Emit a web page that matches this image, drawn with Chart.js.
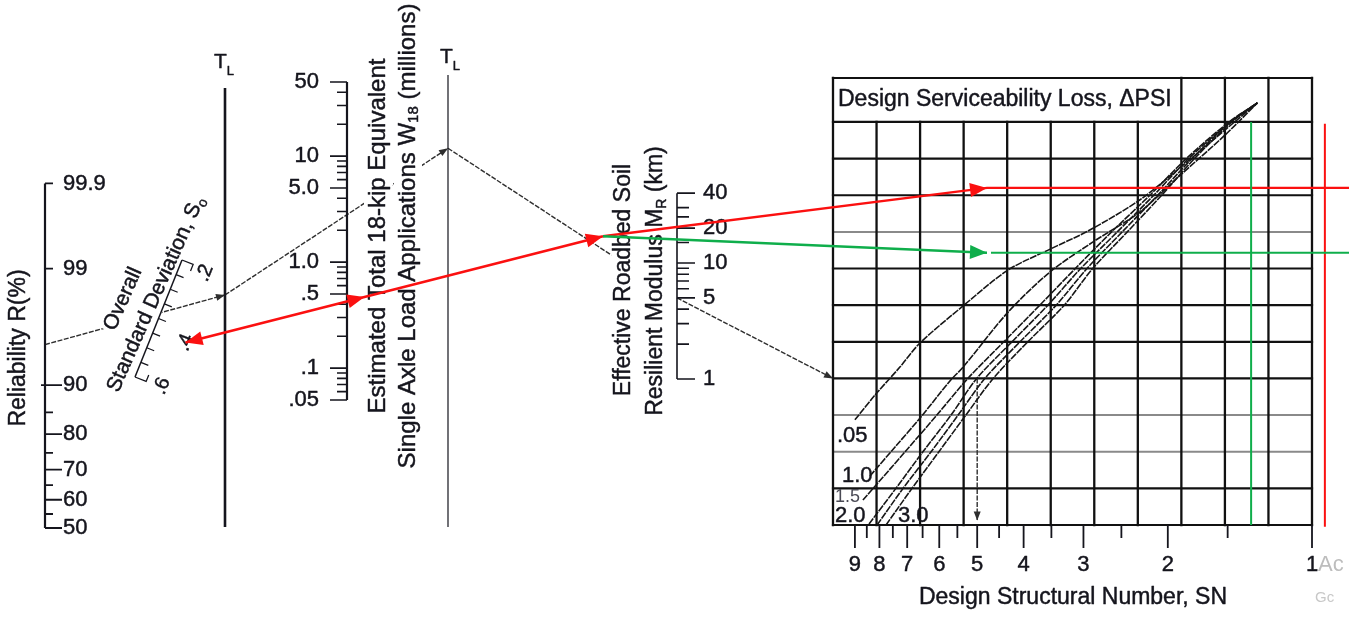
<!DOCTYPE html>
<html>
<head>
<meta charset="utf-8">
<title>Flexible pavement design nomograph</title>
<script src="https://cdn.jsdelivr.net/npm/chart.js@4.4.1/dist/chart.umd.min.js"></script>
<style>
html,body{margin:0;padding:0;background:#fff;overflow:hidden;}
canvas{display:block;}
</style>
</head>
<body>
<canvas id="chart" width="1349" height="617"></canvas>
<script>
const reliabilityTicks = [99.9, 99, 90, 80, 70, 60, 50];
const reliabilityLongTicks = [90, 80, 70, 60, 50];
const reliabilityMinorTicks = [85, 75, 65, 55];

const stdDevTicks = [0.20, 0.25, 0.30, 0.35, 0.40, 0.45, 0.50, 0.55, 0.60];
const stdDevLabelValues = [0.2, 0.4, 0.6];
const stdDevLabels = ['.2', '.4', '.6'];

const w18LabelValues = [50, 10, 5, 1, 0.5, 0.1, 0.05];
const w18Labels = ['50', '10', '5.0', '1.0', '.5', '.1', '.05'];
const w18MinorTicks = [40, 30, 20, 9, 8, 7, 6, 4, 3, 2, 0.9, 0.8, 0.7, 0.6, 0.4, 0.3, 0.2, 0.09, 0.08, 0.07, 0.06];

const mrLabelValues = [40, 20, 10, 5, 1];
const mrLabels = ['40', '20', '10', '5', '1'];
const mrMinorTicks = [30, 25, 15, 9, 8, 7, 6, 4, 3, 2];

const snLabelValues = [9, 8, 7, 6, 5, 4, 3, 2, 1];
const snMinorTicks = [8.5, 7.5, 6.5, 5.5, 4.5, 3.5, 2.5, 1.5];

const psiLabels = ['.05', '1.0', '1.5', '2.0', '3.0'];
// Design serviceability loss curves: [SN, chart row]
const psiCurve05 = [[9.0,2.87],[8.13,3.58],[7.25,4.31],[6.58,4.97],[5.35,5.98],[4.31,6.96],[3.52,7.53],[2.91,8.05],[2.29,8.87],[1.89,9.74],[1.52,10.78],[1.30,11.52]];
const psiCurve10 = [[8.37,1.34],[7.42,2.13],[6.58,2.92],[5.70,3.93],[5.35,4.31],[4.31,5.81],[3.52,6.91],[2.87,7.72],[2.29,8.54],[1.89,9.53],[1.52,10.64],[1.30,11.52]];
const psiCurve15 = [[8.66,0.68],[7.07,2],[6.07,3],[5.23,4],[4.40,5],[3.70,6],[3.12,7],[2.62,8],[2.18,9],[1.83,10],[1.49,11],[1.30,11.52]];
const psiCurve20 = [[8.41,0.03],[7.39,1],[6.49,2],[5.67,3],[5.01,4],[4.23,5],[3.56,6],[3.04,7],[2.55,8],[2.14,9],[1.81,10],[1.48,11],[1.30,11.52]];
const psiCurve25 = [[8.09,0],[7.14,1],[6.24,2],[5.48,3],[4.82,4],[4.07,5],[3.42,6],[2.95,7],[2.49,8],[2.10,9],[1.78,10],[1.48,11],[1.30,11.52]];
const psiCurve30 = [[7.75,0],[6.84,1],[6.01,2],[5.28,3],[4.63,4],[3.92,5],[3.29,6],[2.87,7],[2.43,8],[2.06,9],[1.76,10],[1.47,11],[1.30,11.52]];

// worked example (black)
const exampleReliability = 95;
const exampleStdDev = 0.38;
const exampleW18 = 2.8;
const exampleMR = 5;
const exampleRow = 4;
const exampleSN = 5.0;
// hand-drawn annotation (red / green)
const annotationStdDev = 0.4;
const annotationMR = 17;
const annotationSN = 4.77;
const redRow = 9.2;
const greenRow = 7.43;
const redVerticalSN = 0.94;
const greenVerticalSN = 1.34;

// ===================== LAYOUT / STYLE =====================
const W = 1349, H = 617;
const PANEL = {left: 833, right: 1312, top: 78, bottom: 525};
const GRID_COLS = 11, GRID_ROWS = 11, GY_MAX = 12.2;
const SN_MIN = 1, SN_MAX = 10;
const REL = {x: 45, y50: 528, unit: 111.5, tickShort: 8, tickLong: 17};
const SO = {x0: 182, y0: 260, x1: 135, y1: 377, v0: 0.2, v1: 0.6};
const SO_LABEL_OFFSETS = [[23, 13], [27, 24], [27, 9]];
const SO_TEXT_ANGLE = -66 * Math.PI / 180;
const TL1 = {x: 225, top: 88, bottom: 527};
const W18 = {x: 347, y50: 82, decade: 106};
const TL2 = {x: 448, top: 75, bottom: 527};
const MR = {x: 677, y1: 379, decade: 116};
const PIVOT_X = 603;
const LINE3_FRACTION = 0.72;
const FONT = '"Liberation Sans", Arial, Helvetica, sans-serif';
const INK = '#15151d';
const RED = '#fb1010';
const GREEN = '#0fae4b';
const LINE_GRAY = '#2e2e2e';

// ===================== scale transforms =====================
function probit(p) {
  const a=[-3.969683028665376e+01,2.209460984245205e+02,-2.759285104469687e+02,1.383577518672690e+02,-3.066479806614716e+01,2.506628277459239e+00];
  const b=[-5.447609879822406e+01,1.615858368580409e+02,-1.556989798598866e+02,6.680131188771972e+01,-1.328068155288572e+01];
  const c=[-7.784894002430293e-03,-3.223964580411365e-01,-2.400758277161838e+00,-2.549732539343734e+00,4.374664141464968e+00,2.938163982698783e+00];
  const d=[7.784695709041462e-03,3.224671290700398e-01,2.445134137142996e+00,3.754408661907416e+00];
  const pl = 0.02425, ph = 1 - pl; let q, r;
  if (p < pl) { q = Math.sqrt(-2*Math.log(p)); return (((((c[0]*q+c[1])*q+c[2])*q+c[3])*q+c[4])*q+c[5])/((((d[0]*q+d[1])*q+d[2])*q+d[3])*q+1); }
  if (p <= ph) { q = p - 0.5; r = q*q; return (((((a[0]*r+a[1])*r+a[2])*r+a[3])*r+a[4])*r+a[5])*q/(((((b[0]*r+b[1])*r+b[2])*r+b[3])*r+b[4])*r+1); }
  q = Math.sqrt(-2*Math.log(1-p)); return -(((((c[0]*q+c[1])*q+c[2])*q+c[3])*q+c[4])*q+c[5])/((((d[0]*q+d[1])*q+d[2])*q+d[3])*q+1);
}
const pt = (x, y) => ({x, y});
const GAP = {x: NaN, y: NaN};
const relY = v => REL.y50 - REL.unit * probit(v / 100);
const soPt = v => { const t = (v - SO.v0) / (SO.v1 - SO.v0); return pt(SO.x0 + t * (SO.x1 - SO.x0), SO.y0 + t * (SO.y1 - SO.y0)); };
const soDir = (() => { const dx = SO.x1 - SO.x0, dy = SO.y1 - SO.y0, L = Math.hypot(dx, dy); return {x: dx / L, y: dy / L}; })();
const soPerp = {x: soDir.y, y: -soDir.x};
const soAngle = Math.atan2(SO.y0 - SO.y1, SO.x0 - SO.x1);
const soLabelPos = i => { const p = soPt(stdDevLabelValues[i]); return pt(p.x + SO_LABEL_OFFSETS[i][0], p.y + SO_LABEL_OFFSETS[i][1]); };
const w18Y = v => W18.y50 + W18.decade * (Math.log10(50) - Math.log10(v));
const mrY = v => MR.y1 - MR.decade * Math.log10(v);
const lineAtX = (a, b, x) => pt(x, a.y + (b.y - a.y) * (x - a.x) / (b.x - a.x));
const dirOf = (a, b) => { const L = Math.hypot(b.x - a.x, b.y - a.y); return {x: (b.x - a.x) / L, y: (b.y - a.y) / L}; };
function segs(list) { const out = []; list.forEach((s, i) => { if (i) out.push(GAP); out.push(...s); }); return out; }

// ===================== datasets =====================
const datasets = [];
function add(o) {
  const d = Object.assign({type: 'line', xAxisID: 'px', yAxisID: 'py', borderColor: INK, borderWidth: 1.5,
    pointRadius: 0, pointHoverRadius: 0, pointHitRadius: 0, fill: false, tension: 0, clip: false,
    spanGaps: false, order: 20, borderCapStyle: 'butt', data: []}, o);
  datasets.push(d); return d;
}
const byKey = k => datasets.find(d => d.key === k);

// design chart grid
const colTop = k => (k >= 1 && k <= 7) ? GRID_ROWS : GY_MAX;
add({key: 'gridV', xAxisID: 'gx', yAxisID: 'gy', borderColor: '#111', borderWidth: 2.3, order: 40, borderCapStyle: 'square',
  data: segs(Array.from({length: GRID_COLS + 1}, (_, k) => [pt(k, 0), pt(k, colTop(k))]))});
const grayRows = [2, 3, 8];
const blackRows = [0, 1, 4, 5, 6, 7, 9, 10, 11, GY_MAX];
add({key: 'gridHBlack', xAxisID: 'gx', yAxisID: 'gy', borderColor: '#111', borderWidth: 2.2, order: 41, borderCapStyle: 'square',
  data: segs(blackRows.map(r => [pt(0, r), pt(GRID_COLS, r)]))});
add({key: 'gridHGray', xAxisID: 'gx', yAxisID: 'gy', borderColor: '#8a8a8a', borderWidth: 2, order: 42,
  data: segs(grayRows.map(r => [pt(0, r), pt(GRID_COLS, r)]))});

// ΔPSI curves
[psiCurve05, psiCurve10, psiCurve15, psiCurve20, psiCurve25, psiCurve30].forEach((c, i) =>
  add({key: 'psi' + i, xAxisID: 'sn', yAxisID: 'gy', borderColor: '#161616', borderWidth: 1.6, tension: 0.3,
    borderDash: [7, 1], order: 20, data: c.map(([s, r]) => pt(s, r))}));

// SN axis ticks
const ROW_PX = (PANEL.bottom - PANEL.top) / GY_MAX;
add({key: 'snMajor', xAxisID: 'sn', yAxisID: 'gy', borderWidth: 1.8,
  data: segs(snLabelValues.map(v => [pt(v, 0), pt(v, -23 / ROW_PX)]))});
add({key: 'snMinor', xAxisID: 'sn', yAxisID: 'gy', borderWidth: 1.8,
  data: segs(snMinorTicks.map(v => [pt(v, 0), pt(v, -13 / ROW_PX)]))});

// Reliability axis
add({key: 'relAxis', borderWidth: 2.2, data: [pt(REL.x, relY(99.9)), pt(REL.x, relY(50))]});
add({key: 'relTicks', borderWidth: 1.8, data: segs([
  ...reliabilityTicks.map(v => [pt(REL.x, relY(v)), pt(REL.x + (reliabilityLongTicks.includes(v) ? REL.tickLong : REL.tickShort), relY(v))]),
  ...reliabilityMinorTicks.map(v => [pt(REL.x, relY(v)), pt(REL.x + REL.tickShort, relY(v))]),
  [pt(REL.x - 4, relY(90)), pt(REL.x, relY(90))]
])});

// Overall standard deviation scale
add({key: 'soAxis', borderWidth: 1.5, data: [soPt(SO.v0), soPt(SO.v1)]});
add({key: 'soTicks', borderWidth: 1.3, data: segs(stdDevTicks.map((v, i) => {
  const p = soPt(v);
  if (i === 0 || i === stdDevTicks.length - 1) {
    const e = pt(p.x + soPerp.x * 12, p.y + soPerp.y * 12), s = i === 0 ? 1 : -1;
    return [p, e, pt(e.x + soDir.x * 7 * s, e.y + soDir.y * 7 * s)];
  }
  return [p, pt(p.x + soPerp.x * 8, p.y + soPerp.y * 8)];
}))});

// turning lines
add({key: 'tl1', borderWidth: 2.6, data: [pt(TL1.x, TL1.top), pt(TL1.x, TL1.bottom)]});
add({key: 'tl2', borderWidth: 1.2, data: [pt(TL2.x, TL2.top), pt(TL2.x, TL2.bottom)]});

// W18 axis
add({key: 'w18Axis', borderWidth: 2.2, data: [pt(W18.x, w18Y(50)), pt(W18.x, w18Y(0.05))]});
add({key: 'w18Ticks', borderWidth: 1.6, data: segs([
  ...w18LabelValues.map(v => [pt(W18.x - 17, w18Y(v)), pt(W18.x, w18Y(v))]),
  ...w18MinorTicks.map(v => [pt(W18.x - 10, w18Y(v)), pt(W18.x, w18Y(v))])
])});

// MR axis
add({key: 'mrAxis', borderWidth: 1.6, data: [pt(MR.x, mrY(40)), pt(MR.x, mrY(1))]});
add({key: 'mrTicks', borderWidth: 1.6, data: segs([
  ...mrLabelValues.map(v => [pt(MR.x, mrY(v)), pt(MR.x + 18, mrY(v))]),
  ...mrMinorTicks.map(v => [pt(MR.x, mrY(v)), pt(MR.x + 12, mrY(v))])
])});

// worked example path
const relP = pt(REL.x, relY(exampleReliability));
const soP = soPt(exampleStdDev);
const tl1P = lineAtX(relP, soP, TL1.x);
const w18P = pt(W18.x, w18Y(exampleW18));
const tl2P = lineAtX(tl1P, w18P, TL2.x);
const mrP = pt(MR.x, mrY(exampleMR));
const line3End = pt(tl2P.x + (mrP.x - tl2P.x) * LINE3_FRACTION, tl2P.y + (mrP.y - tl2P.y) * LINE3_FRACTION);
const exStyle = {borderColor: LINE_GRAY, borderWidth: 1.4, borderDash: [5, 1.5], order: 30};
add(Object.assign({key: 'ex1', data: [relP, tl1P], arrows: [{at: 1, from: 0}]}, exStyle));
add(Object.assign({key: 'ex2', data: [tl1P, tl2P], arrows: [{at: 1, from: 0}]}, exStyle));
add(Object.assign({key: 'ex3', data: [tl2P, line3End]}, exStyle));
add(Object.assign({key: 'ex4', data: [], arrows: [{at: 1, from: 0}]}, exStyle));
add(Object.assign({key: 'ex5', xAxisID: 'sn', yAxisID: 'gy', data: [pt(exampleSN, exampleRow), pt(exampleSN, 0.12)], arrows: [{at: 1, from: 0}]}, exStyle));

// text layer anchor (text drawn over black lines, under scales & annotations)
add({key: 'textLayer', textLayer: true, order: 25, data: []});

// red / green annotation
const redStart = soLabelPos(stdDevLabelValues.indexOf(annotationStdDev));
const pivot = pt(PIVOT_X, mrY(annotationMR));
const rd = dirOf(redStart, pivot);
const redCross = lineAtX(redStart, pivot, W18.x);
const redMid = pt(redCross.x + rd.x * 18, redCross.y + rd.y * 18);
add({key: 'redA', borderColor: RED, borderWidth: 2.6, order: 5, data: [redStart, redMid, pivot],
  arrows: [{at: 0, from: 1, big: true}, {at: 1, from: 0, big: true}, {at: 2, from: 1, big: true}]});
add({key: 'redB', borderColor: RED, borderWidth: 2.4, order: 5, data: [], arrows: [{at: 1, from: 0, big: true}]});
add({key: 'redV', xAxisID: 'sn', yAxisID: 'gy', borderColor: RED, borderWidth: 2, order: 5,
  data: [pt(redVerticalSN, 10.95), pt(redVerticalSN, -0.05)]});
add({key: 'greenE', borderColor: GREEN, borderWidth: 2.6, order: 4, data: [], arrows: [{at: 1, from: 0, big: true}]});
add({key: 'greenF', borderColor: GREEN, borderWidth: 2.2, order: 4, data: []});
add({key: 'greenV', xAxisID: 'sn', yAxisID: 'gy', borderColor: GREEN, borderWidth: 2, order: 4,
  data: [pt(greenVerticalSN, GRID_ROWS), pt(greenVerticalSN, 0)]});

// ===================== drawing helpers =====================
function text(ctx, runs, x, y, angle, align, o = {}) {
  ctx.save();
  ctx.translate(x, y); if (angle) ctx.rotate(angle);
  ctx.textBaseline = 'middle'; ctx.textAlign = 'left';
  const ws = runs.map(([t, s]) => { ctx.font = s + 'px ' + FONT; return ctx.measureText(t).width; });
  const total = ws.reduce((a, b) => a + b, 0);
  let cx = align === 'center' ? -total / 2 : align === 'right' ? -total : 0;
  if (o.bg) { const h = o.bgH || runs[0][1] * 1.12; ctx.fillStyle = '#fff'; ctx.fillRect(cx - 2, -h / 2 + (o.bgShift || 0), total + 4, h); }
  const col = o.color || INK;
  ctx.fillStyle = col; ctx.strokeStyle = col; ctx.lineWidth = 0.45; ctx.lineJoin = 'round';
  runs.forEach(([t, s, dy], i) => {
    ctx.font = s + 'px ' + FONT;
    ctx.fillText(t, cx, dy || 0);
    if (!o.light) ctx.strokeText(t, cx, dy || 0);
    cx += ws[i];
  });
  ctx.restore();
}
function arrowHead(ctx, tip, from, len, half, color) {
  const d = dirOf(from, tip);
  const bx = tip.x - d.x * len, by = tip.y - d.y * len;
  ctx.beginPath(); ctx.moveTo(tip.x, tip.y);
  ctx.lineTo(bx - d.y * half, by + d.x * half); ctx.lineTo(bx + d.y * half, by - d.x * half);
  ctx.closePath(); ctx.fillStyle = color; ctx.fill();
}
const R90 = -Math.PI / 2;
function drawTexts(chart) {
  const ctx = chart.ctx, sn = chart.scales.sn;
  // reliability
  reliabilityTicks.forEach(v => text(ctx, [[String(v), 22]], REL.x + 18, relY(v), 0, 'left'));
  text(ctx, [['Reliability R(%)', 23]], 19, 348, R90, 'center');
  // standard deviation
  text(ctx, [['Overall', 21]], 123, 299, SO_TEXT_ANGLE, 'center', {bg: true, bgH: 30, bgShift: 3});
  text(ctx, [['Standard Deviation, S', 21], ['o', 14, 6]], 156, 294, SO_TEXT_ANGLE, 'center', {bg: true, bgH: 26});
  stdDevLabels.forEach((l, i) => { const p = soLabelPos(i); text(ctx, [[l, 20]], p.x, p.y, soAngle, 'center'); });
  // turning lines
  text(ctx, [['T', 21], ['L', 13, 9]], 214, 62, 0, 'left');
  text(ctx, [['T', 21], ['L', 13, 9]], 440, 57, 0, 'left');
  // W18
  w18Labels.forEach((l, i) => text(ctx, [[l, 22]], W18.x - 28, w18Y(w18LabelValues[i]), 0, 'right'));
  text(ctx, [['Estimated Total 18-kip Equivalent', 24]], 378, 236, R90, 'center', {bg: true, bgH: 28});
  text(ctx, [['Single Axle Load Applications W', 24], ['18', 15, 6], [' (millions)', 24]], 408, 236, R90, 'center', {bg: true, bgH: 28});
  // MR
  mrLabels.forEach((l, i) => text(ctx, [[l, 22]], MR.x + 26, mrY(mrLabelValues[i]), 0, 'left'));
  text(ctx, [['Effective Roadbed Soil', 23]], 624, 280, R90, 'center', {bg: true});
  text(ctx, [['Resilient Modulus M', 23], ['R', 14, 6], [' (km)', 23]], 656, 281, R90, 'center', {bg: true});
  // design chart
  text(ctx, [['Design Serviceability Loss, \u0394PSI', 23]], 838, 100, 0, 'left');
  const psiPos = [[837, 436, 22], [842, 476, 22], [835, 497, 18], [835, 516, 22], [898, 516, 22]];
  psiLabels.forEach((l, i) => text(ctx, [[l, psiPos[i][2]]], psiPos[i][0], psiPos[i][1], 0, 'left', {color: i === 2 ? '#4a4a55' : INK, light: i === 2}));
  snLabelValues.forEach(v => text(ctx, [[String(v), 22]], sn.getPixelForValue(v), 565, 0, 'center'));
  text(ctx, [['Design Structural Number, SN', 23]], 1073, 598, 0, 'center');
  // screen watermark remnants
  text(ctx, [['Ac', 22]], 1318, 565, 0, 'left', {color: '#bdbdbd', light: true});
  text(ctx, [['Gc', 15]], 1315, 598, 0, 'left', {color: '#c8c8c8', light: true});
}
const layerPlugin = {
  id: 'nomoLayers',
  afterDatasetDraw(chart, args) {
    const ds = chart.data.datasets[args.index];
    const ctx = chart.ctx;
    if (ds.textLayer) drawTexts(chart);
    if (ds.arrows) {
      const pts = args.meta.data;
      ds.arrows.forEach(a => {
        const tip = pts[a.at], from = pts[a.from];
        if (!tip || !from) return;
        ctx.save();
        arrowHead(ctx, tip, from, a.big ? 17 : 9, a.big ? 7 : 3.5, ds.borderColor);
        ctx.restore();
      });
    }
  }
};

// ===================== chart =====================
const chart = new Chart(document.getElementById('chart'), {
  type: 'line',
  data: {datasets},
  options: {
    responsive: false, animation: false, devicePixelRatio: 1, events: [],
    layout: {padding: {left: PANEL.left, right: W - PANEL.right, top: PANEL.top, bottom: H - PANEL.bottom}},
    plugins: {legend: {display: false}, tooltip: {enabled: false}, title: {display: false}},
    scales: {
      px: {type: 'linear', axis: 'x', position: 'bottom', display: false, bounds: 'data',
        afterDataLimits: s => { s.min = PANEL.left; s.max = PANEL.right; }},
      py: {type: 'linear', axis: 'y', position: 'left', display: false, reverse: true, bounds: 'data',
        afterDataLimits: s => { s.min = PANEL.top; s.max = PANEL.bottom; }},
      sn: {type: 'logarithmic', axis: 'x', position: 'bottom', display: false, reverse: true, bounds: 'data',
        afterDataLimits: s => { s.min = SN_MIN; s.max = SN_MAX; }},
      gx: {type: 'linear', axis: 'x', position: 'bottom', display: false, bounds: 'data',
        afterDataLimits: s => { s.min = 0; s.max = GRID_COLS; }},
      gy: {type: 'linear', axis: 'y', position: 'left', display: false, bounds: 'data',
        afterDataLimits: s => { s.min = 0; s.max = GY_MAX; }}
    }
  },
  plugins: [layerPlugin]
});

// lines that join the nomograph to the design chart: end points taken from the chart's own scales
const snS = chart.scales.sn, gyS = chart.scales.gy;
const P = (s, r) => pt(snS.getPixelForValue(s), gyS.getPixelForValue(r));
byKey('ex4').data = [mrP, P(SN_MAX, exampleRow)];
const redTip = P(annotationSN, redRow);
byKey('redB').data = [pivot, redTip, pt(W, redTip.y)];
const greenTip = P(annotationSN, greenRow);
byKey('greenE').data = [pivot, greenTip];
byKey('greenF').data = [pt(greenTip.x + 4, greenTip.y), pt(W, greenTip.y)];
chart.update();
</script>
</body>
</html>
